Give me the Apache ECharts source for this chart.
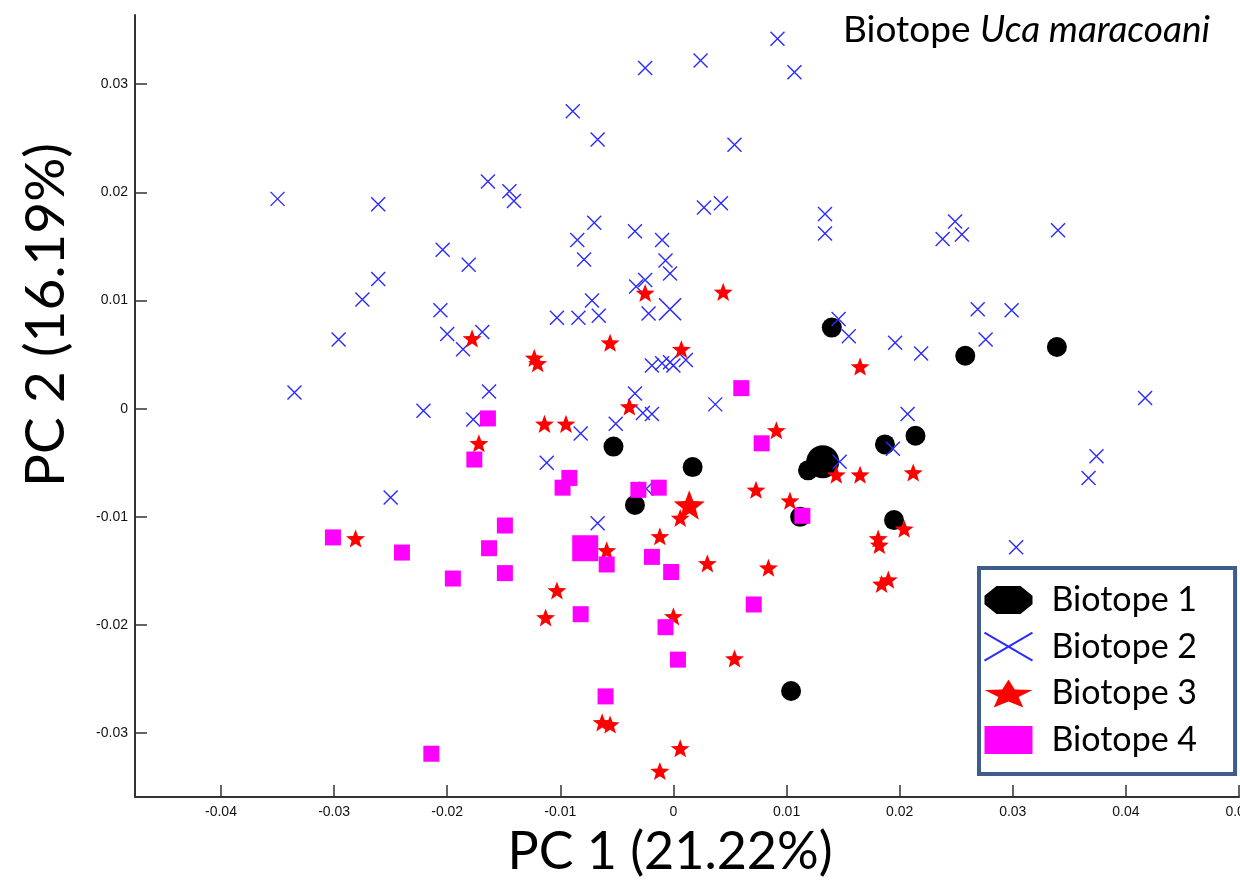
<!DOCTYPE html>
<html><head><meta charset="utf-8">
<script src="https://cdn.jsdelivr.net/npm/echarts@6/dist/echarts.min.js"></script>
<style>html,body{margin:0;padding:0;background:#fff}#c{width:1240px;height:882px}</style>
</head><body><div id="c"></div>
<script>
const seriesNames = ['Biotope 1', 'Biotope 2', 'Biotope 3', 'Biotope 4'];
const xTicks = [-0.04, -0.03, -0.02, -0.01, 0, 0.01, 0.02, 0.03, 0.04, 0.05];
const xTickLabels = ['-0.04', '-0.03', '-0.02', '-0.01', '0', '0.01', '0.02', '0.03', '0.04', '0.05'];
const yTicks = [-0.03, -0.02, -0.01, 0, 0.01, 0.02, 0.03];
const yTickLabels = ['-0.03', '-0.02', '-0.01', '0', '0.01', '0.02', '0.03'];

const biotope1 = [
  [-0.0053, -0.0035], [0.0017, -0.0054], [-0.0034, -0.0089], [0.0119, -0.0057],
  [0.0140, 0.0075], [0.0112, -0.0100], [0.0258, 0.0049], [0.0339, 0.0057],
  [0.0214, -0.0025], [0.0187, -0.0033], [0.0195, -0.0103], [0.0104, -0.0261]
];
const biotope1Mean = [[0.0132, -0.0049]];

const biotope2 = [
  [-0.0350, 0.0194], [-0.0261, 0.0189], [-0.0164, 0.0210], [-0.0145, 0.0201], [-0.0141, 0.0192],
  [-0.0204, 0.0147], [-0.0181, 0.0133], [-0.0261, 0.0120], [-0.0275, 0.0101], [-0.0206, 0.0091],
  [-0.0296, 0.0064], [-0.0200, 0.0069], [-0.0186, 0.0055], [-0.0169, 0.0071], [-0.0335, 0.0015],
  [-0.0163, 0.0016], [-0.0221, -0.0002], [-0.0177, -0.0010], [-0.0250, -0.0082], [-0.0089, 0.0275],
  [-0.0067, 0.0249], [-0.0025, 0.0315], [0.0024, 0.0322], [0.0092, 0.0342], [0.0107, 0.0311],
  [0.0054, 0.0244], [0.0027, 0.0186], [0.0042, 0.0190], [0.0134, 0.0180], [0.0134, 0.0162],
  [-0.0070, 0.0172], [-0.0085, 0.0156], [-0.0034, 0.0164], [-0.0010, 0.0156], [-0.0079, 0.0138],
  [-0.0007, 0.0137], [-0.0003, 0.0125], [-0.0025, 0.0119], [-0.0033, 0.0113], [-0.0072, 0.0100],
  [-0.0103, 0.0084], [-0.0084, 0.0084], [-0.0066, 0.0086], [-0.0022, 0.0088], [-0.0019, 0.0040],
  [-0.0010, 0.0042], [-0.0003, 0.0043], [0.0000, 0.0040], [0.0011, 0.0045], [-0.0034, 0.0014],
  [-0.0027, -0.0004], [-0.0019, -0.0005], [-0.0051, -0.0014], [-0.0082, -0.0023], [-0.0112, -0.0050],
  [0.0037, 0.0004], [0.0146, 0.0083], [0.0155, 0.0067], [0.0147, -0.0049], [-0.0067, -0.0106],
  [-0.0024, -0.0074], [0.0249, 0.0173], [0.0238, 0.0157], [0.0255, 0.0161], [0.0340, 0.0165],
  [0.0269, 0.0092], [0.0299, 0.0091], [0.0196, 0.0061], [0.0219, 0.0051], [0.0276, 0.0064],
  [0.0417, 0.0010], [0.0207, -0.0005], [0.0194, -0.0037], [0.0374, -0.0044], [0.0367, -0.0064],
  [0.0303, -0.0128]
];
const biotope2Mean = [[-0.0003, 0.0092]];

const biotope3 = [
  [-0.0178, 0.0065], [-0.0172, -0.0032], [-0.0281, -0.0120], [-0.0025, 0.0107], [0.0044, 0.0108],
  [-0.0056, 0.0061], [-0.0123, 0.0047], [-0.0120, 0.0042], [0.0007, 0.0055], [-0.0039, 0.0002],
  [-0.0114, -0.0014], [-0.0095, -0.0014], [0.0165, 0.0039], [0.0091, -0.0020], [0.0073, -0.0075],
  [0.0103, -0.0085], [0.0165, -0.0061], [0.0144, -0.0061], [0.0212, -0.0059], [0.0204, -0.0111],
  [0.0181, -0.0120], [0.0182, -0.0126], [0.0184, -0.0162], [0.0190, -0.0158], [0.0006, -0.0101],
  [-0.0012, -0.0118], [-0.0059, -0.0131], [0.0030, -0.0143], [0.0084, -0.0147], [-0.0103, -0.0168],
  [-0.0113, -0.0193], [0.0000, -0.0192], [0.0054, -0.0231], [-0.0063, -0.0290], [-0.0056, -0.0292],
  [0.0006, -0.0314], [-0.0012, -0.0335]
];
const biotope3Mean = [[0.0014, -0.0089]];

const biotope4 = [
  [-0.0164, -0.0009], [-0.0176, -0.0047], [-0.0301, -0.0119], [-0.0240, -0.0133], [-0.0195, -0.0157],
  [-0.0163, -0.0129], [-0.0149, -0.0108], [-0.0149, -0.0152], [0.0060, 0.0019], [0.0078, -0.0032],
  [-0.0092, -0.0064], [-0.0098, -0.0073], [-0.0031, -0.0075], [-0.0013, -0.0073], [0.0114, -0.0099],
  [-0.0059, -0.0144], [-0.0019, -0.0137], [-0.0002, -0.0151], [0.0071, -0.0181], [-0.0082, -0.0190],
  [-0.0007, -0.0202], [0.0004, -0.0232], [-0.0060, -0.0266], [-0.0214, -0.0319]
];
const biotope4Mean = [[-0.0078, -0.0129]];

const CROSS = 'path://M0,0L10,10M10,0L0,10';
const STAR = 'path://M50,0L62.34,33.01L97.55,34.55L69.97,56.49L79.39,90.45L50,71L20.61,90.45L30.03,56.49L2.45,34.55L37.66,33.01Z';
const OCT = 'path://M25,0L75,0L100,35L100,65L75,100L25,100L0,65L0,35Z';
const BLUE = '#2b2bff';

function labelFor(ticks, labels) {
  return function (v) {
    let best = 0;
    for (let i = 1; i < ticks.length; i++) if (Math.abs(ticks[i] - v) < Math.abs(ticks[best] - v)) best = i;
    return labels[best];
  };
}

function sc(name, data, symbol, size, itemStyle, keep) {
  return { type: 'scatter', name, data, symbol, symbolSize: size, symbolKeepAspect: !!keep,
    itemStyle: Object.assign({ opacity: 1 }, itemStyle), emphasis: { disabled: true }, animation: false };
}

const chart = echarts.init(document.getElementById('c'), null, { renderer: 'canvas' });
const axisCommon = {
  type: 'value',
  splitLine: { show: false },
  axisLine: { show: true, onZero: false, lineStyle: { color: '#333', width: 2 } },
  axisTick: { show: true, inside: true, length: 12, lineStyle: { color: '#333', width: 1.5 } },
};
chart.setOption({
  animation: false,
  backgroundColor: '#fff',
  grid: { left: 135, top: 15, right: 1, bottom: 85, containLabel: false, outerBoundsMode: 'none' },
  xAxis: Object.assign({}, axisCommon, {
    min: -0.0476, max: 0.05,
    axisTick: Object.assign({}, axisCommon.axisTick, { customValues: xTicks }),
    axisLabel: { customValues: xTicks, formatter: labelFor(xTicks, xTickLabels), margin: 8,
      fontFamily: 'Liberation Sans', fontSize: 14, color: '#111' }
  }),
  yAxis: Object.assign({}, axisCommon, {
    min: -0.0359, max: 0.0364,
    axisTick: Object.assign({}, axisCommon.axisTick, { customValues: yTicks }),
    axisLabel: { customValues: yTicks, formatter: labelFor(yTicks, yTickLabels), margin: 7,
      fontFamily: 'Liberation Sans', fontSize: 14, color: '#111' }
  }),
  legend: {
    orient: 'vertical', left: 979, top: 568,
    padding: [15, 38, 17, 3], itemGap: 12.7, itemWidth: 48, itemHeight: 28,
    symbolKeepAspect: false,
    backgroundColor: '#fff', borderColor: '#3f5d8c', borderWidth: 4, borderRadius: 0,
    textStyle: { fontFamily: 'Lato', fontSize: 34, color: '#000', lineHeight: 34, padding: [0, 0, 0, 14] },
    selectedMode: false,
    data: [
      { name: seriesNames[0], icon: OCT, itemStyle: { color: '#000', opacity: 1 } },
      { name: seriesNames[1], icon: CROSS, itemStyle: { color: 'none', borderColor: BLUE, borderWidth: 2, opacity: 1 } },
      { name: seriesNames[2], icon: STAR, itemStyle: { color: '#ff0000', opacity: 1 } },
      { name: seriesNames[3], icon: 'rect', itemStyle: { color: '#ff00ff', opacity: 1 } }
    ]
  },
  graphic: [
    { type: 'text', x: 843, y: 30, style: {
      text: '{a|Biotope }{b|Uca maracoani}', verticalAlign: 'middle', align: 'left',
      rich: { a: { fontFamily: 'Lato', fontSize: 37, fill: '#000' },
              b: { fontFamily: 'Lato', fontSize: 37, fontStyle: 'italic', fill: '#000' } } } },
    { type: 'text', x: 670, y: 852, style: { text: 'PC 1 (21.22%)', fontFamily: 'Lato', fontSize: 52,
      fill: '#000', align: 'center', verticalAlign: 'middle' } },
    { type: 'text', x: 46, y: 315, rotation: Math.PI / 2, style: { text: 'PC 2 (16.19%)', fontFamily: 'Lato',
      fontSize: 55, fill: '#000', align: 'center', verticalAlign: 'middle' } }
  ],
  series: [
    sc(seriesNames[0], biotope1, 'circle', 20, { color: '#000' }),
    sc(seriesNames[0], biotope1Mean, 'circle', 33, { color: '#000' }),
    sc(seriesNames[1], biotope2, CROSS, 14, { color: 'none', borderColor: BLUE, borderWidth: 1.4 }),
    sc(seriesNames[1], biotope2Mean, CROSS, 22, { color: 'none', borderColor: BLUE, borderWidth: 1.6 }),
    sc(seriesNames[2], biotope3, STAR, 19, { color: '#ff0000' }, true),
    sc(seriesNames[2], biotope3Mean, STAR, 31, { color: '#ff0000' }, true),
    sc(seriesNames[3], biotope4, 'rect', 16, { color: '#ff00ff' }),
    sc(seriesNames[3], biotope4Mean, 'rect', 26, { color: '#ff00ff' })
  ]
});
</script></body></html>
